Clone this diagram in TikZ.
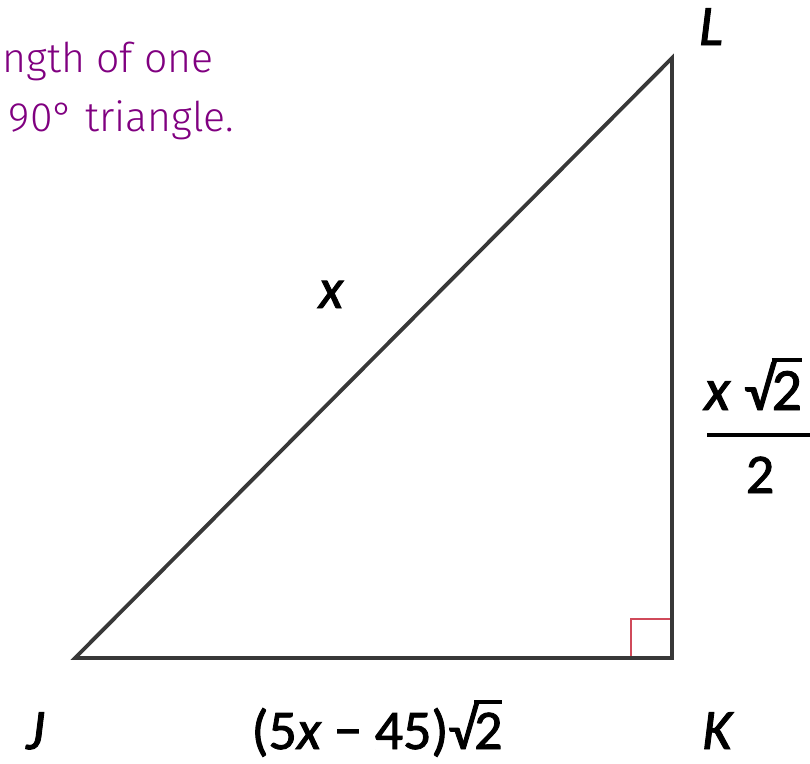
\documentclass[tikz,border=0pt]{standalone}
\usepackage{fontspec}
\setmainfont{Carlito}[FakeBold=1.6,ItalicFeatures={FakeBold=1.6}]
\newfontfamily\handfont{Fira Sans Light}
\definecolor{hand}{HTML}{800080}
\definecolor{edge}{HTML}{383838}
\definecolor{ramark}{HTML}{D04A5A}
\newcommand\rootof[1]{\setbox0\hbox{#1}√\kern-0.04em\rlap{\raisebox{0.80em}{\rule{\wd0}{0.07em}}}\box0}
\begin{document}
\begin{tikzpicture}[x=1pt,y=-1pt,
  side/.style={draw=edge,line width=3.8pt,line join=miter},
  lbl/.style={font=\fontsize{57}{62}\selectfont\itshape,inner sep=0pt,anchor=base},
  math/.style={font=\fontsize{56}{62}\selectfont,inner sep=0pt},
  note/.style={font=\handfont\fontsize{41}{48}\selectfont,text=hand,inner sep=0pt,anchor=base east}]
\useasboundingbox (0,0) rectangle (810,763);
\begin{scope}
\clip (0,0) rectangle (810,763);
\node[note] (t1) at (214,72) {ngth of one};
\node[note] (t2) at (234,131) {90° triangle.};
\end{scope}
\coordinate (J) at (75,658);
\coordinate (K) at (672,658);
\coordinate (L) at (672,58);
\draw[draw=ramark,line width=2.8pt] (631,658) -- (631,619) -- (672,619);
\draw[side] (J) -- (K) -- (L) -- cycle;
\node[lbl] (nL) at (711,45) {L};
\node[lbl] (nJ) at (35,749) {J};
\node[lbl] (nK) at (717,749) {K};
\node[lbl] (nx) at (331,308) {x};
\node[math,anchor=base] (bot) at (377,749) {(5\textit{x} − 45)\rootof{2}};
\node[math,anchor=base west,font=\fontsize{60}{66}\selectfont] (num) at (704,410) {\textit{x} \rootof{2}};
\draw[line width=4.5pt] (707,435) -- (812,435);
\node[math,anchor=base] (den) at (760,493) {2};
\end{tikzpicture}
\end{document}
